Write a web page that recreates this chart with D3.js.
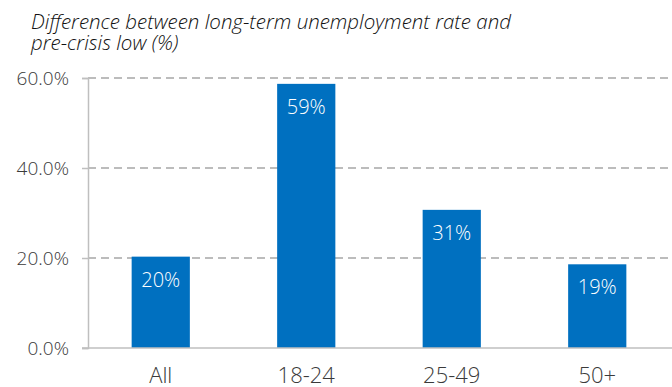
<!DOCTYPE html>
<html>
<head>
<meta charset="utf-8">
<script src="https://cdn.jsdelivr.net/npm/d3@7"></script>
<style>
  body { margin: 0; background: #fff; }
  text { font-family: "Open Sans", Lato, sans-serif; font-weight: 300; }
</style>
</head>
<body>
<svg id="drawing_region"></svg>
<script>
const categories = ["All", "18-24", "25-49", "50+"];
const values = [20.3, 58.7, 30.7, 18.6];
const labels = ["20%", "59%", "31%", "19%"];
const yticks = [0, 20, 40, 60];

const width = 672, height = 387;
const margin = {top: 78, right: 2, bottom: 39, left: 88};
const inner_width = width - margin.left - margin.right;
const inner_height = height - margin.top - margin.bottom;

const svg = d3.select("#drawing_region")
    .attr("width", width)
    .attr("height", height);

// title, two lines
const title = svg.append("text")
    .attr("x", 31)
    .attr("y", 29)
    .attr("font-size", "20.5px")
    .attr("font-style", "italic")
    .attr("fill", "#111");
title.append("tspan").attr("x", 31).text("Difference between long-term unemployment rate and");
title.append("tspan").attr("x", 31).attr("dy", 21).text("pre-crisis low (%)");

const chart = svg.append("g")
    .attr("transform", `translate(${margin.left}, ${margin.top})`);

const yscale = d3.scaleLinear()
    .domain([0, 60])
    .range([inner_height, 0]);

const xscale = d3.scaleBand()
    .domain(categories)
    .range([0, inner_width])
    .paddingInner(0.6)
    .paddingOuter(0.3);

// dashed gridlines
chart.selectAll(".grid")
    .data(yticks.filter(d => d > 0))
    .enter()
    .append("line")
    .attr("x1", 0)
    .attr("x2", inner_width + margin.right)
    .attr("y1", d => yscale(d))
    .attr("y2", d => yscale(d))
    .attr("stroke", "#a6a6a6")
    .attr("stroke-width", 1.5)
    .attr("stroke-dasharray", "8,5");

// y axis
const yaxis = d3.axisLeft(yscale)
    .tickValues(yticks)
    .tickSize(6)
    .tickPadding(13)
    .tickFormat(d => d.toFixed(1) + "%");

const yaxis_group = chart.append("g").call(yaxis);
yaxis_group.select(".domain").attr("stroke", "#bfbfbf").attr("stroke-width", 1.5);
yaxis_group.selectAll(".tick line").attr("stroke", "#bfbfbf").attr("stroke-width", 1.5);
yaxis_group.selectAll(".tick text")
    .attr("font-size", "19px")
    .attr("font-family", "'Open Sans', sans-serif")
    .attr("fill", "#3a3a3a");

// bars
chart.selectAll(".bar")
    .data(values)
    .enter()
    .append("rect")
    .attr("x", (d, i) => xscale(categories[i]))
    .attr("y", d => yscale(d))
    .attr("width", xscale.bandwidth())
    .attr("height", d => inner_height - yscale(d))
    .attr("fill", "#0070c0");

// bar labels
chart.selectAll(".barlabel")
    .data(values)
    .enter()
    .append("text")
    .attr("x", (d, i) => xscale(categories[i]) + xscale.bandwidth() / 2)
    .attr("y", d => yscale(d) + 30)
    .attr("text-anchor", "middle")
    .attr("font-size", "20px")
    .attr("fill", "#fff")
    .text((d, i) => labels[i]);

// x axis baseline
const xaxis = d3.axisBottom(xscale).tickSize(0).tickPadding(0);
const xaxis_group = chart.append("g")
    .attr("transform", `translate(0, ${inner_height})`)
    .call(xaxis);
xaxis_group.select(".domain")
    .attr("d", `M-6,0H${inner_width + margin.right}`)
    .attr("stroke", "#bfbfbf")
    .attr("stroke-width", 1.5);
xaxis_group.selectAll(".tick text")
    .attr("y", 35)
    .attr("dy", null)
    .attr("font-size", "22px")
    .attr("font-family", "'Open Sans', sans-serif")
    .attr("fill", "#3a3a3a");
</script>
</body>
</html>
